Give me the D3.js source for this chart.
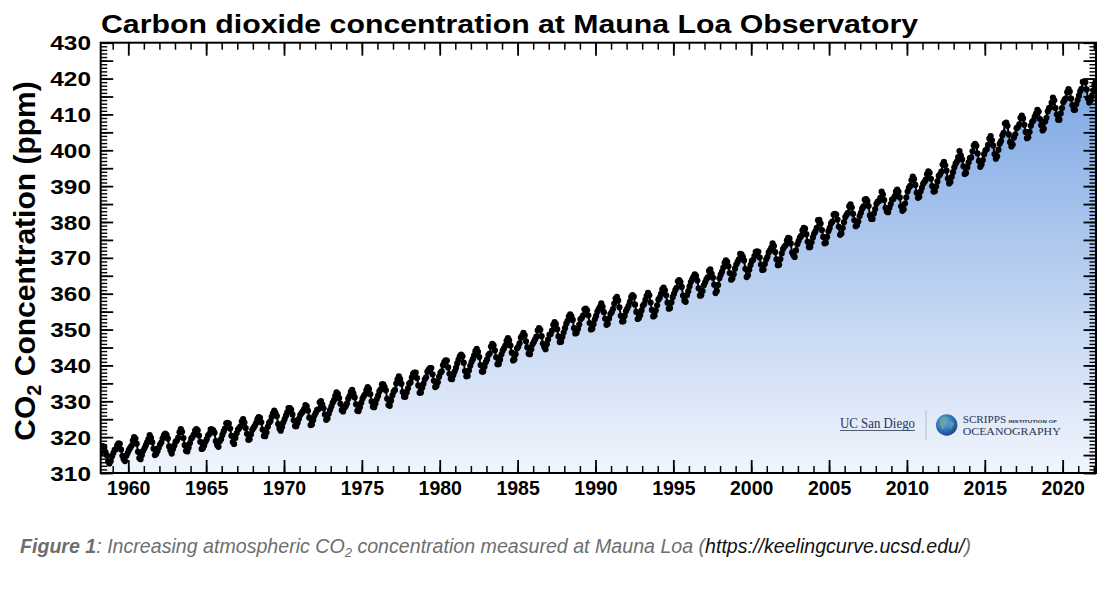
<!DOCTYPE html>
<html><head><meta charset="utf-8">
<script src="https://cdn.jsdelivr.net/npm/d3@7"></script>
<style>body{margin:0;background:#fff}svg{display:block}</style>
</head><body>
<svg id="c" width="1108" height="592"></svg>
<script>
// ---- data: monthly mean CO2 (ppm) at Mauna Loa, starting March 1958 ----
const startYear = 1958, startMonth = 3;
const co2_1950s = [
  315.70,317.45,317.51,317.24,315.86,314.93,313.20,312.66,313.33,314.67,
  315.58,316.48,316.65,317.72,318.29,318.15,316.54,314.80,313.84,313.33,314.81,315.58];
const co2_1960s = [
  316.43,316.98,317.58,319.03,320.04,319.59,318.18,315.90,314.17,313.83,315.00,316.19,
  316.89,317.70,318.54,319.48,320.58,319.77,318.57,316.79,314.99,315.31,316.10,317.01,
  317.94,318.55,319.68,320.57,321.02,320.62,319.61,317.40,316.25,315.42,316.69,317.70,
  318.74,319.07,319.86,321.38,322.25,321.48,319.74,317.77,316.21,315.99,317.07,318.35,
  319.57,320.01,320.74,321.84,322.26,321.89,320.44,318.69,316.70,316.87,317.68,318.71,
  319.44,320.44,320.89,322.14,322.17,321.87,321.21,318.87,317.81,317.30,318.87,319.42,
  320.62,321.59,322.39,323.87,324.01,323.75,322.39,320.37,318.64,318.10,319.79,321.08,
  322.07,322.50,323.04,324.42,325.00,324.09,322.54,320.92,319.25,319.39,320.73,321.96,
  322.57,323.15,323.89,325.02,325.57,325.36,324.14,322.11,320.33,320.25,321.32,322.89,
  324.00,324.42,325.63,326.66,327.38,326.71,325.88,323.66,322.38,321.78,322.85,324.12];
const co2_1970s = [
  325.06,325.98,326.93,328.13,328.08,327.67,326.34,324.69,323.10,323.06,324.01,325.13,
  326.17,326.68,327.17,327.79,328.93,328.57,327.36,325.43,323.36,323.56,324.80,326.01,
  326.77,327.63,327.75,329.72,330.07,329.09,328.04,326.32,324.84,325.20,326.50,327.55,
  328.55,329.56,330.30,331.50,332.48,332.07,330.87,329.31,327.51,327.18,328.16,328.64,
  329.35,330.71,331.48,332.65,333.18,332.20,331.07,329.15,327.33,327.28,328.31,329.58,
  330.73,331.46,331.94,333.11,333.95,333.42,331.97,329.95,328.50,328.36,329.38,330.62,
  331.56,332.74,333.36,334.74,334.72,333.98,333.08,330.68,328.96,328.72,330.16,331.62,
  332.68,333.17,334.96,336.14,336.93,336.17,334.88,332.56,331.29,331.28,332.46,333.60,
  334.94,335.26,336.66,337.69,338.02,338.01,336.50,334.42,332.36,332.45,333.76,334.91,
  336.14,336.69,338.27,338.82,339.24,339.26,337.54,335.72,333.97,334.24,335.32,336.81];
const co2_1980s = [
  337.90,338.34,340.07,340.93,341.45,341.36,339.45,337.67,336.25,336.14,337.30,338.29,
  339.29,340.55,341.61,342.53,343.03,342.54,340.78,338.44,336.95,337.08,338.58,339.88,
  340.96,341.73,342.81,343.97,344.63,343.79,342.32,340.09,338.28,338.29,339.60,340.90,
  341.68,342.90,343.33,345.25,346.03,345.63,344.19,342.27,340.35,340.38,341.59,343.05,
  344.10,344.79,345.52,346.84,347.63,346.97,345.53,343.55,341.40,341.67,343.10,344.70,
  345.21,346.16,347.74,348.34,349.06,348.38,346.72,345.02,343.27,343.13,344.49,345.88,
  346.56,347.28,348.01,349.77,350.38,349.93,348.16,346.08,345.22,344.51,345.93,347.21,
  348.52,348.73,349.73,351.31,352.09,351.53,350.11,348.08,346.52,346.59,347.96,349.16,
  350.39,351.64,352.41,353.69,354.21,353.72,352.69,350.40,348.92,349.13,350.20,351.41,
  352.91,353.27,353.96,355.64,355.86,355.37,353.99,351.81,350.05,350.25,351.49,352.85];
const co2_1990s = [
  353.80,355.04,355.73,356.32,357.32,356.34,354.84,353.01,351.31,351.62,353.07,354.33,
  354.84,355.73,357.23,358.66,359.13,358.13,356.19,353.85,352.25,352.35,353.81,355.12,
  355.88,356.63,357.72,359.07,359.58,359.17,356.94,354.92,352.94,353.23,354.09,355.33,
  356.63,357.10,358.32,359.41,360.23,359.55,357.53,355.48,353.67,353.95,355.30,356.78,
  358.34,358.89,359.95,361.25,361.67,360.94,359.55,357.49,355.84,356.00,357.58,359.04,
  359.97,361.00,361.64,363.45,363.79,363.26,361.90,359.46,358.06,357.75,359.56,360.70,
  362.05,363.25,364.03,364.72,365.41,364.97,363.65,361.49,359.46,359.60,360.76,362.33,
  363.18,364.00,364.57,366.35,366.79,365.62,364.47,362.51,360.19,360.77,362.43,364.28,
  365.32,366.15,367.31,368.61,369.30,368.88,367.64,365.78,363.90,364.23,365.46,366.97,
  368.15,368.87,369.59,371.14,371.00,370.35,369.27,366.94,364.63,365.12,366.67,368.01];
const co2_2000s = [
  369.14,369.46,370.52,371.66,371.82,371.70,370.12,368.12,366.62,366.73,368.29,369.53,
  370.28,371.50,372.12,372.87,374.02,373.30,371.62,369.55,367.96,368.09,369.68,371.24,
  372.44,373.08,373.52,374.85,375.55,375.40,374.02,371.48,370.71,370.25,372.08,373.78,
  374.68,375.62,376.11,377.65,378.35,378.13,376.61,374.48,372.98,373.00,374.35,375.69,
  376.79,377.36,378.39,380.50,380.62,379.55,377.76,375.83,374.05,374.22,375.84,377.44,
  378.34,379.61,380.08,382.05,382.24,382.08,380.67,378.67,376.42,376.80,378.31,379.96,
  381.37,382.02,382.56,384.37,384.92,384.03,382.28,380.48,378.81,379.06,380.14,381.66,
  382.58,383.71,384.34,386.23,386.41,385.87,384.45,381.84,380.86,380.86,382.36,383.61,
  385.07,385.72,385.85,386.71,388.45,387.64,386.10,383.95,382.91,382.73,383.96,385.02,
  386.26,386.39,387.13,388.46,389.00,388.41,386.85,384.39,383.12,383.56,385.13,386.84];
const co2_2010s = [
  388.51,389.55,390.06,391.63,392.66,391.94,390.33,388.16,386.75,387.03,388.47,389.54,
  390.63,391.18,391.81,393.33,394.14,393.70,392.05,389.99,388.47,388.58,389.89,391.30,
  392.85,393.31,394.04,396.02,396.78,395.83,394.32,392.13,390.75,391.13,392.59,393.89,
  395.25,396.25,396.84,398.08,399.77,398.61,397.46,395.55,393.40,393.64,395.22,396.60,
  397.85,398.01,399.71,401.33,401.78,401.25,399.10,397.03,395.38,396.03,397.28,398.91,
  399.98,400.28,401.54,403.28,403.96,402.80,401.31,398.93,397.63,398.29,400.16,401.85,
  402.56,404.12,404.87,407.45,407.72,406.83,404.41,402.27,401.05,401.59,403.55,404.45,
  406.17,406.46,407.22,409.04,409.69,408.88,407.12,405.13,403.37,403.63,405.12,406.81,
  407.96,408.32,409.41,410.24,411.24,410.79,408.71,406.99,405.51,406.00,408.02,409.07,
  410.83,411.75,411.97,413.32,414.66,413.92,411.77,409.95,408.54,408.53,410.27,411.76];
const co2_2020s = [
  413.40,414.11,414.51,416.21,417.07,416.39,414.38,412.55,411.29,411.28,412.89,414.02,
  415.23,416.45,417.14,419.05,419.13,418.94,416.96,414.47,413.30,413.93,415.01,416.71,
  418.19,419.28,418.81];

const xDomain = [1958.23, 2022.14];
const yDomain = [310, 430];
const xMajorTicks = [1960,1965,1970,1975,1980,1985,1990,1995,2000,2005,2010,2015,2020];
const xMinorTicks = d3.range(1959, 2023);
const yLabelTicks = [310,320,330,340,350,360,370,380,390,400,410,420,430];
const yMajorTicks = d3.range(310, 431, 5);
const yMinorTicks = d3.range(310, 431, 1);
const titleText = "Carbon dioxide concentration at Mauna Loa Observatory";

// ---- drawing ----
const svg = d3.select("#c");
const L = 100.7, R = 1096, T = 42.7, B = 473;
const x = d3.scaleLinear().domain(xDomain).range([L, R]);
const y = d3.scaleLinear().domain(yDomain).range([B, T]);
const FONT = "'Liberation Sans', Arial, Helvetica, sans-serif";

svg.append("rect").attr("width",1108).attr("height",592).attr("fill","#fff");

const defs = svg.append("defs");
const g1 = defs.append("linearGradient").attr("id","fillGrad")
  .attr("gradientUnits","userSpaceOnUse").attr("x1",0).attr("x2",0).attr("y1",T).attr("y2",B);
g1.append("stop").attr("offset","0").attr("stop-color","#72a0e2");
g1.append("stop").attr("offset","0.5").attr("stop-color","#b3cbef");
g1.append("stop").attr("offset","1").attr("stop-color","#f1f5fc");
defs.append("clipPath").attr("id","plotClip").append("rect")
  .attr("x",L).attr("y",T).attr("width",R-L).attr("height",B-T);
const gg = defs.append("radialGradient").attr("id","globe").attr("cx","40%").attr("cy","35%").attr("r","70%");
gg.append("stop").attr("offset","0").attr("stop-color","#6fb2e6");
gg.append("stop").attr("offset","0.6").attr("stop-color","#2c6fb7");
gg.append("stop").attr("offset","1").attr("stop-color","#1a3f7e");

const co2Values = [].concat(co2_1950s, co2_1960s, co2_1970s, co2_1980s, co2_1990s, co2_2000s, co2_2010s, co2_2020s);
const points = co2Values.map((v, i) => ({ t: startYear + (startMonth - 1 + i + 0.5) / 12, v }));

const plot = svg.append("g").attr("clip-path","url(#plotClip)");
plot.append("path").datum(points)
  .attr("d", d3.area().x(d => x(d.t)).y0(y(yDomain[0])).y1(d => y(d.v)))
  .attr("fill","url(#fillGrad)");

// logo
const logo = svg.append("g");
const SERIF = "'Liberation Serif','DejaVu Serif',serif";
logo.append("text").attr("x",840).attr("y",428).attr("textLength",75).attr("lengthAdjust","spacingAndGlyphs")
  .attr("font-family",SERIF).attr("font-size",15).attr("fill","#2a3656").text("UC San Diego");
logo.append("line").attr("x1",840).attr("x2",915).attr("y1",430.5).attr("y2",430.5).attr("stroke","#2a3656").attr("stroke-width",0.8);
logo.append("line").attr("x1",926).attr("x2",926).attr("y1",410).attr("y2",440).attr("stroke","#b4bccb").attr("stroke-width",1);
logo.append("circle").attr("cx",946.7).attr("cy",425).attr("r",10.7).attr("fill","url(#globe)");
logo.append("path").attr("d","M941,418 q4,-3 7,0 q-1,4 -4,5 q1,4 -1,7 q-3,-3 -3,-7 z").attr("fill","#6fa58a").attr("opacity",0.8);
logo.append("path").attr("d","M950,421 q3,0 4,3 q-2,4 -4,6 q-1,-4 0,-9 z").attr("fill","#6fa58a").attr("opacity",0.7);
logo.append("text").attr("x",962.7).attr("y",422.5).attr("textLength",43.5).attr("lengthAdjust","spacingAndGlyphs")
  .attr("font-family",SERIF).attr("font-size",10.8).attr("fill","#2a3656").text("SCRIPPS");
logo.append("text").attr("x",1008.5).attr("y",422.6).attr("textLength",48.5).attr("lengthAdjust","spacingAndGlyphs")
  .attr("font-family","'Liberation Sans',sans-serif").attr("font-weight","bold").attr("font-size",4.2).attr("fill","#2a3656").text("INSTITUTION OF");
logo.append("text").attr("x",962.7).attr("y",434.5).attr("textLength",98).attr("lengthAdjust","spacingAndGlyphs")
  .attr("font-family",SERIF).attr("font-size",10.8).attr("fill","#2a3656").text("OCEANOGRAPHY");

plot.append("path").datum(points)
  .attr("d", d3.line().x(d => x(d.t)).y(d => y(d.v)))
  .attr("fill","none").attr("stroke","#000").attr("stroke-width",2);
plot.selectAll("circle.pt").data(points).join("circle").attr("class","pt")
  .attr("cx", d => x(d.t)).attr("cy", d => y(d.v)).attr("r",3.1).attr("fill","#000");

// axes
function styleAxis(g, w) {
  g.select(".domain").remove();
  g.selectAll(".tick line").attr("stroke","#000").attr("stroke-width", w);
}
svg.append("g").attr("transform",`translate(0,${B})`)
  .call(d3.axisBottom(x).tickValues(xMinorTicks).tickSize(-7).tickFormat(""))
  .call(g => styleAxis(g,1.5));
const xb = svg.append("g").attr("transform",`translate(0,${B})`)
  .call(d3.axisBottom(x).tickValues(xMajorTicks).tickSize(-13).tickPadding(8).tickFormat(d3.format("d")))
  .call(g => styleAxis(g,1.8));
xb.selectAll("text").attr("font-family",FONT).attr("font-weight","bold").attr("font-size",19.5).attr("fill","#000");
svg.append("g").attr("transform",`translate(0,${T})`)
  .call(d3.axisTop(x).tickValues(xMinorTicks).tickSize(-7).tickFormat(""))
  .call(g => styleAxis(g,1.5));
svg.append("g").attr("transform",`translate(0,${T})`)
  .call(d3.axisTop(x).tickValues(xMajorTicks).tickSize(-13).tickFormat(""))
  .call(g => styleAxis(g,1.8));

svg.append("g").attr("transform",`translate(${L},0)`)
  .call(d3.axisLeft(y).tickValues(yMinorTicks).tickSize(-6.5).tickFormat(""))
  .call(g => styleAxis(g,1.4));
svg.append("g").attr("transform",`translate(${L},0)`)
  .call(d3.axisLeft(y).tickValues(yMajorTicks).tickSize(-12.5).tickFormat(""))
  .call(g => styleAxis(g,1.8));
const yl = svg.append("g").attr("transform",`translate(${L},0)`)
  .call(d3.axisLeft(y).tickValues(yLabelTicks).tickSize(0).tickPadding(0).tickFormat(d3.format("d")))
  .call(g => styleAxis(g,0));
yl.selectAll("text").attr("font-family",FONT).attr("font-weight","bold").attr("font-size",19.5).attr("fill","#000")
  .attr("x",-7.8).attr("dy","0.36em").attr("transform","scale(1.25,1)");
svg.append("g").attr("transform",`translate(${R},0)`)
  .call(d3.axisRight(y).tickValues(yMinorTicks).tickSize(-6.5).tickFormat(""))
  .call(g => styleAxis(g,1.4));
svg.append("g").attr("transform",`translate(${R},0)`)
  .call(d3.axisRight(y).tickValues(yMajorTicks).tickSize(-12.5).tickFormat(""))
  .call(g => styleAxis(g,1.8));

svg.append("rect").attr("x",L).attr("y",T).attr("width",R-L).attr("height",B-T)
  .attr("fill","none").attr("stroke","#000").attr("stroke-width",2);

// title
svg.append("text").attr("x",101).attr("y",33.3)
  .attr("font-family",FONT).attr("font-weight","bold").attr("font-size",25.5)
  .attr("textLength",817).attr("lengthAdjust","spacingAndGlyphs").attr("fill","#000").text(titleText);

// y label
const ylab = svg.append("text").attr("transform","translate(35,261) rotate(-90)")
  .attr("text-anchor","middle").attr("font-family",FONT).attr("font-weight","bold").attr("font-size",30).attr("fill","#000");
ylab.append("tspan").text("CO");
ylab.append("tspan").attr("font-size",20).attr("dy",6).text("2");
ylab.append("tspan").attr("dy",-6).text(" Concentration (ppm)");

// caption
const cap = svg.append("text").attr("x",20).attr("y",553)
  .attr("font-family","'Liberation Sans Narrow','Arial Narrow','Liberation Sans',sans-serif")
  .attr("font-style","italic").attr("font-size",19.5).attr("fill","#6e6e6e")
  .attr("textLength",951).attr("lengthAdjust","spacingAndGlyphs");
cap.append("tspan").attr("font-weight","bold").text("Figure 1");
cap.append("tspan").text(": Increasing atmospheric CO");
cap.append("tspan").attr("font-size",13).attr("dy",4).text("2");
cap.append("tspan").attr("dy",-4).text(" concentration measured at Mauna Loa (");
cap.append("tspan").attr("fill","#111").text("https://keelingcurve.ucsd.edu/");
cap.append("tspan").text(")");
</script>
</body></html>
